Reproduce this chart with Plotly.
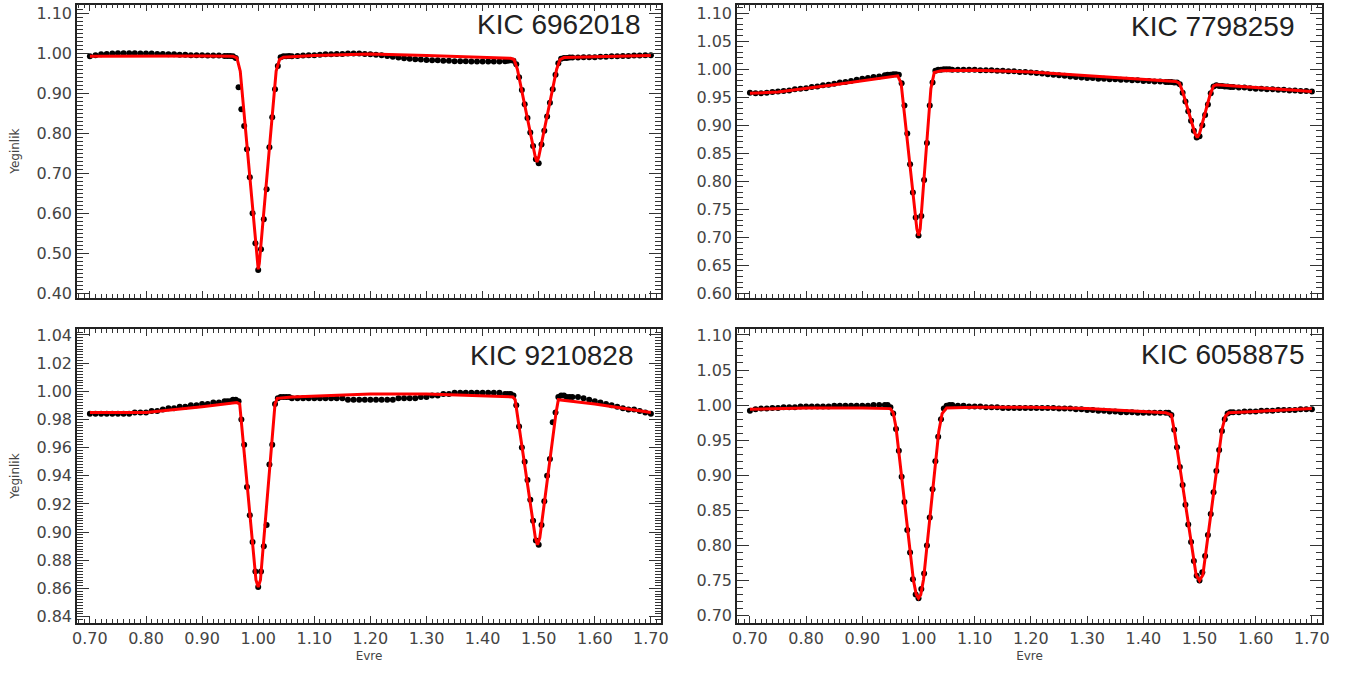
import plotly.graph_objects as go

# ortak evre ızgarası (gözlem noktaları)
evre = [
    0.70, 0.71, 0.72, 0.73, 0.74, 0.75, 0.76, 0.77, 0.78, 0.79, 0.80, 0.81, 0.82,
    0.83, 0.84, 0.85, 0.86, 0.87, 0.88, 0.89, 0.90, 0.91, 0.92, 0.93, 0.94,
    0.945, 0.950, 0.955, 0.960, 0.965, 0.970, 0.975, 0.980, 0.985, 0.990, 0.995, 1.000,
    1.005, 1.010, 1.015, 1.020, 1.025, 1.030, 1.035, 1.040, 1.045, 1.050, 1.055,
    1.06, 1.07, 1.08, 1.09, 1.10, 1.11, 1.12, 1.13, 1.14, 1.15, 1.16, 1.17, 1.18,
    1.19, 1.20, 1.21, 1.22, 1.23, 1.24, 1.25, 1.26, 1.27, 1.28, 1.29, 1.30, 1.31,
    1.32, 1.33, 1.34, 1.35, 1.36, 1.37, 1.38, 1.39, 1.40, 1.41, 1.42, 1.43, 1.44,
    1.445, 1.450, 1.455, 1.460, 1.465, 1.470, 1.475, 1.480, 1.485, 1.490, 1.495, 1.500,
    1.505, 1.510, 1.515, 1.520, 1.525, 1.530, 1.535, 1.540, 1.545, 1.550, 1.555,
    1.56, 1.57, 1.58, 1.59, 1.60, 1.61, 1.62, 1.63, 1.64, 1.65, 1.66, 1.67, 1.68,
    1.69, 1.70,
]

# KIC 6962018
kic6962018_gozlem = [
    0.992, 0.995, 0.997, 0.998, 0.999, 1.000, 1.000, 1.000, 1.000, 0.999, 0.999, 0.999, 0.998,
    0.998, 0.997, 0.997, 0.996, 0.996, 0.995, 0.995, 0.995, 0.994, 0.994, 0.994, 0.993,
    0.993, 0.993, 0.992, 0.988, 0.915, 0.860, 0.818, 0.760, 0.690, 0.600, 0.525, 0.458,
    0.510, 0.585, 0.660, 0.765, 0.840, 0.910, 0.968, 0.990, 0.992, 0.992, 0.993,
    0.992, 0.993, 0.994, 0.995, 0.995, 0.996, 0.997, 0.997, 0.998, 0.998, 0.999, 0.999, 0.999,
    0.998, 0.997, 0.996, 0.995, 0.993, 0.991, 0.989, 0.987, 0.986, 0.985, 0.984, 0.983, 0.982,
    0.982, 0.981, 0.981, 0.980, 0.980, 0.980, 0.979, 0.979, 0.979, 0.979, 0.979, 0.979, 0.980,
    0.981, 0.982, 0.981, 0.972, 0.940, 0.908, 0.872, 0.838, 0.802, 0.768, 0.735, 0.725,
    0.772, 0.806, 0.842, 0.876, 0.910, 0.946, 0.975, 0.986, 0.988, 0.988, 0.989,
    0.989, 0.989, 0.990, 0.990, 0.990, 0.991, 0.991, 0.992, 0.992, 0.993, 0.993, 0.994, 0.994,
    0.995, 0.995,
]
kic6962018_model_evre = [0.70, 0.80, 0.90, 0.955, 0.962, 0.968, 0.998, 1.000, 1.002, 1.032, 1.038,
                         1.045, 1.10, 1.20, 1.30, 1.45, 1.456, 1.462, 1.494, 1.497, 1.500, 1.532,
                         1.538, 1.545, 1.60, 1.70]
kic6962018_model = [0.992, 0.993, 0.993, 0.992, 0.988, 0.955, 0.475, 0.460, 0.475, 0.955, 0.984,
                    0.990, 0.994, 0.998, 0.994, 0.987, 0.984, 0.960, 0.740, 0.728, 0.740, 0.960,
                    0.984, 0.989, 0.991, 0.994]

# KIC 7798259
kic7798259_gozlem = [
    0.958, 0.957, 0.957, 0.958, 0.959, 0.960, 0.961, 0.962, 0.964, 0.965, 0.966, 0.968, 0.969,
    0.971, 0.972, 0.974, 0.976, 0.977, 0.979, 0.981, 0.983, 0.984, 0.986, 0.987, 0.989,
    0.990, 0.990, 0.991, 0.991, 0.990, 0.975, 0.935, 0.885, 0.830, 0.780, 0.735, 0.703,
    0.738, 0.802, 0.868, 0.935, 0.976, 0.997, 0.999, 0.999, 1.000, 1.000, 1.000,
    0.999, 0.999, 0.999, 0.999, 0.999, 0.998, 0.998, 0.998, 0.997, 0.997, 0.996, 0.996, 0.995,
    0.995, 0.994, 0.993, 0.992, 0.991, 0.990, 0.989, 0.988, 0.987, 0.986, 0.985, 0.984, 0.984,
    0.983, 0.983, 0.982, 0.982, 0.981, 0.981, 0.980, 0.980, 0.979, 0.979, 0.978, 0.978, 0.977,
    0.977, 0.977, 0.976, 0.976, 0.973, 0.958, 0.942, 0.925, 0.908, 0.890, 0.878, 0.880,
    0.900, 0.918, 0.937, 0.957, 0.969, 0.971, 0.970, 0.970, 0.969, 0.969, 0.968,
    0.968, 0.967, 0.967, 0.966, 0.965, 0.965, 0.964, 0.964, 0.963, 0.963, 0.962, 0.962, 0.961,
    0.961, 0.960,
]
kic7798259_model_evre = [0.70, 0.75, 0.85, 0.95, 0.963, 0.969, 0.997, 1.000, 1.003, 1.022, 1.028,
                         1.04, 1.10, 1.20, 1.30, 1.40, 1.458, 1.464, 1.470, 1.492, 1.496, 1.500,
                         1.519, 1.525, 1.53, 1.60, 1.70]
kic7798259_model = [0.957, 0.959, 0.972, 0.986, 0.988, 0.975, 0.715, 0.703, 0.715, 0.965, 0.994,
                    0.997, 0.998, 0.995, 0.988, 0.982, 0.978, 0.975, 0.960, 0.885, 0.878, 0.885,
                    0.955, 0.970, 0.972, 0.967, 0.960]

# KIC 9210828
kic9210828_gozlem = [
    0.984, 0.984, 0.984, 0.984, 0.984, 0.984, 0.984, 0.984, 0.985, 0.985, 0.985, 0.986, 0.986,
    0.987, 0.988, 0.988, 0.989, 0.989, 0.990, 0.990, 0.991, 0.991, 0.992, 0.992, 0.993,
    0.993, 0.993, 0.994, 0.994, 0.993, 0.980, 0.962, 0.932, 0.912, 0.893, 0.872, 0.861,
    0.872, 0.890, 0.905, 0.948, 0.962, 0.991, 0.995, 0.996, 0.996, 0.996, 0.996,
    0.995, 0.995, 0.995, 0.995, 0.995, 0.995, 0.995, 0.995, 0.995, 0.995, 0.994, 0.994, 0.994,
    0.994, 0.994, 0.994, 0.994, 0.994, 0.994, 0.995, 0.995, 0.995, 0.995, 0.996, 0.996, 0.997,
    0.997, 0.998, 0.998, 0.999, 0.999, 0.999, 0.999, 0.999, 0.999, 0.999, 0.999, 0.999, 0.998,
    0.998, 0.998, 0.997, 0.990, 0.975, 0.960, 0.950, 0.937, 0.923, 0.908, 0.894, 0.891,
    0.905, 0.922, 0.940, 0.952, 0.978, 0.985, 0.996, 0.997, 0.997, 0.996, 0.996,
    0.996, 0.996, 0.995, 0.994, 0.993, 0.992, 0.991, 0.990, 0.989, 0.988, 0.987, 0.987, 0.986,
    0.985, 0.984,
]
kic9210828_model_evre = [0.70, 0.80, 0.90, 0.962, 0.967, 0.996, 1.000, 1.004, 1.030, 1.034, 1.06,
                         1.20, 1.30, 1.40, 1.454, 1.458, 1.494, 1.498, 1.502, 1.531, 1.535, 1.60,
                         1.70]
kic9210828_model = [0.985, 0.985, 0.989, 0.992, 0.991, 0.866, 0.861, 0.866, 0.991, 0.995, 0.996,
                    0.998, 0.998, 0.997, 0.996, 0.994, 0.896, 0.891, 0.896, 0.985, 0.994, 0.991,
                    0.985]

# KIC 6058875
kic6058875_gozlem = [
    0.992, 0.994, 0.995, 0.995, 0.996, 0.996, 0.997, 0.997, 0.997, 0.998, 0.998, 0.998, 0.998,
    0.998, 0.998, 0.999, 0.999, 0.999, 0.999, 0.999, 0.999, 0.999, 1.000, 1.000, 1.000,
    1.000, 0.997, 0.988, 0.966, 0.935, 0.898, 0.862, 0.822, 0.790, 0.752, 0.730, 0.725,
    0.738, 0.760, 0.800, 0.840, 0.880, 0.920, 0.955, 0.980, 0.995, 0.999, 1.000,
    1.000, 0.999, 0.999, 0.998, 0.998, 0.998, 0.997, 0.997, 0.997, 0.996, 0.996, 0.996, 0.996,
    0.996, 0.996, 0.996, 0.996, 0.996, 0.996, 0.995, 0.995, 0.995, 0.994, 0.994, 0.993, 0.993,
    0.992, 0.992, 0.991, 0.991, 0.990, 0.990, 0.990, 0.989, 0.989, 0.989, 0.989, 0.989, 0.989,
    0.989, 0.986, 0.965, 0.940, 0.912, 0.886, 0.858, 0.830, 0.805, 0.778, 0.757, 0.750,
    0.762, 0.785, 0.815, 0.845, 0.876, 0.906, 0.936, 0.963, 0.980, 0.988, 0.990,
    0.990, 0.990, 0.991, 0.991, 0.991, 0.992, 0.992, 0.992, 0.993, 0.993, 0.993, 0.993, 0.994,
    0.994, 0.994,
]
kic6058875_model_evre = [0.70, 0.80, 0.90, 0.950, 0.955, 0.960, 0.991, 0.996, 1.000, 1.004, 1.009,
                         1.036, 1.042, 1.05, 1.10, 1.20, 1.30, 1.44, 1.450, 1.456, 1.494, 1.500,
                         1.506, 1.540, 1.546, 1.552, 1.60, 1.70]
kic6058875_model = [0.994, 0.996, 0.996, 0.995, 0.989, 0.968, 0.750, 0.730, 0.725, 0.730, 0.752,
                    0.962, 0.988, 0.996, 0.997, 0.997, 0.995, 0.989, 0.986, 0.960, 0.758, 0.750,
                    0.758, 0.965, 0.984, 0.989, 0.991, 0.995]

paneller = [
    dict(ad="KIC 6962018", gozlem=kic6962018_gozlem, m_evre=kic6962018_model_evre,
         model=kic6962018_model, yaralik=[0.389, 1.121], dtick=0.1, minor=0.01,
         etiket_x=1.684, etiket_y=1.071),
    dict(ad="KIC 7798259", gozlem=kic7798259_gozlem, m_evre=kic7798259_model_evre,
         model=kic7798259_model, yaralik=[0.592, 1.115], dtick=0.05, minor=0.01,
         etiket_x=1.671, etiket_y=1.076),
    dict(ad="KIC 9210828", gozlem=kic9210828_gozlem, m_evre=kic9210828_model_evre,
         model=kic9210828_model, yaralik=[0.8357, 1.044], dtick=0.02, minor=0.002,
         etiket_x=1.671, etiket_y=1.0254),
    dict(ad="KIC 6058875", gozlem=kic6058875_gozlem, m_evre=kic6058875_model_evre,
         model=kic6058875_model, yaralik=[0.690, 1.108], dtick=0.05, minor=0.01,
         etiket_x=1.689, etiket_y=1.0715),
]

W, H = 1349, 675
x_alanlar = [[77 / W, 661 / W], [737 / W, 1322 / W]]
y_alanlar = [[1 - 297.7 / H, 1 - 4.7 / H], [1 - 622.7 / H, 1 - 329.3 / H]]

tick_font = dict(family="DejaVu Sans", size=16, color="#444")
baslik_font = dict(family="DejaVu Sans", size=12, color="#444")

fig = go.Figure()
layout = dict(width=W, height=H, margin=dict(l=0, r=0, t=0, b=0, pad=0, autoexpand=False),
              paper_bgcolor="white", plot_bgcolor="white", showlegend=False,
              annotations=[])

for i, p in enumerate(paneller):
    n = "" if i == 0 else str(i + 1)
    satir, sutun = i // 2, i % 2
    fig.add_trace(go.Scatter(x=evre, y=p["gozlem"], mode="markers", xaxis="x" + n, yaxis="y" + n,
                             marker=dict(color="black", size=6), hoverinfo="skip"))
    fig.add_trace(go.Scatter(x=p["m_evre"], y=p["model"], mode="lines", xaxis="x" + n,
                             yaxis="y" + n, line=dict(color="#ff0000", width=3), hoverinfo="skip"))

    layout["xaxis" + n] = dict(
        domain=x_alanlar[sutun], anchor="y" + n, range=[0.677, 1.718], automargin=False,
        tick0=0.7, dtick=0.1, tickformat=".2f", ticks="inside", ticklen=7, tickwidth=1.2,
        tickcolor="#333", showline=True, linecolor="#222", linewidth=1.5, mirror="allticks",
        showgrid=False, zeroline=False, showticklabels=(satir == 1), tickfont=tick_font,
        minor=dict(dtick=0.01, ticks="inside", ticklen=4, tickwidth=1, tickcolor="#333",
                   showgrid=False),
        title=dict(text="Evre" if satir == 1 else "", font=baslik_font, standoff=5),
    )
    layout["yaxis" + n] = dict(
        domain=y_alanlar[satir], anchor="x" + n, range=p["yaralik"], automargin=False,
        tick0=0.4, dtick=p["dtick"], tickformat=".2f", ticks="inside", ticklen=12,
        tickwidth=1.2, tickcolor="#333", showline=True, linecolor="#222", linewidth=1.5,
        mirror="allticks", showgrid=False, zeroline=False, tickfont=tick_font,
        minor=dict(dtick=p["minor"], ticks="inside", ticklen=6, tickwidth=1, tickcolor="#333",
                   showgrid=False),
        title=dict(text="Yeginlik" if sutun == 0 else "", font=baslik_font, standoff=14),
    )
    layout["annotations"].append(dict(
        text=p["ad"], x=p["etiket_x"], y=p["etiket_y"], xref="x" + n, yref="y" + n,
        xanchor="right", yanchor="middle", showarrow=False,
        font=dict(family="Liberation Sans", size=28, color="#222"),
    ))

fig.update_layout(**layout)
# tarayıcının varsayılan 8px gövde boşluğunu kaldır
fig.write_html("out.html", config={"displayModeBar": False},
               post_script="document.body.style.margin = '0';")
